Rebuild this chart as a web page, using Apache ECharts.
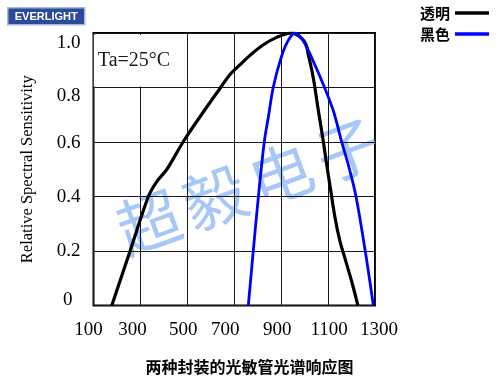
<!DOCTYPE html>
<html>
<head>
<meta charset="utf-8">
<script src="https://cdn.jsdelivr.net/npm/echarts@6/dist/echarts.min.js"></script>
<style>html,body{margin:0;padding:0;background:#fff;}#c{width:499px;height:380px;}</style>
</head>
<body>
<div id="c"></div>
<script>
// ---- data ----
var seriesNames = ['透明', '黑色'];
var clearX = [178, 256, 334, 369, 413, 482, 560, 642, 682, 725, 767, 824, 881, 945, 988, 1006, 1016, 1037, 1059, 1080, 1094, 1108, 1130, 1151, 1172, 1201, 1227];
var clearY = [0, 0.2, 0.4, 0.454, 0.5, 0.6, 0.7, 0.8, 0.848, 0.884, 0.918, 0.957, 0.984, 1.0, 0.98, 0.957, 0.92, 0.835, 0.713, 0.6, 0.517, 0.44, 0.32, 0.234, 0.173, 0.087, 0];
var blackX = [760, 781, 803, 828, 847, 866, 895, 924, 959, 995, 1037, 1080, 1123, 1158, 1186, 1219, 1262, 1293];
var blackY = [0, 0.2, 0.4, 0.6, 0.7, 0.8, 0.896, 0.963, 1.0, 0.97, 0.896, 0.81, 0.713, 0.6, 0.517, 0.4, 0.18, 0];
var xTicks = [100, 300, 500, 700, 900, 1100, 1300];
var yTicks = [0, 0.2, 0.4, 0.6, 0.8, 1.0];
var yTitle = 'Relative Spectral Sensitivity';
var xTitle = '两种封装的光敏管光谱响应图';
var condition = 'Ta=25°C';
var watermark = ['超', '毅', '电', '子'];
var logoText = 'EVERLIGHT';

// ---- styles (label nudges to mimic the scanned original) ----
var xShift = {100: -5, 300: -8, 500: -4, 700: -9, 900: -4, 1100: 1, 1300: 4};
var yShift = {0: [-5, 8], 0.2: [0, 0], 0.4: [1, 0], 0.6: [1, 0], 0.8: [9, 0], 1: [10, 0]};

function pairs(xs, ys) { return xs.map(function (x, i) { return [x, ys[i]]; }); }

var xRich = {}, yRich = {};
xTicks.forEach(function (v, i) {
  var d = xShift[v] || 0;
  xRich['x' + i] = {fontSize: 19, fontFamily: 'Liberation Serif', color: '#000',
    padding: [0, d < 0 ? -2 * d : 0, 0, d > 0 ? 2 * d : 0]};
});
yTicks.forEach(function (v, i) {
  var s = yShift[v] || [0, 0];
  var dy = s[0], dx = s[1];
  yRich['y' + i] = {fontSize: 19, fontFamily: 'Liberation Serif', color: '#000',
    padding: [dy > 0 ? 2 * dy : 0, dx, dy < 0 ? -2 * dy : 0, 0]};
});

var chart = echarts.init(document.getElementById('c'), null, {renderer: 'canvas'});
var wmChildren = watermark.map(function (ch, i) {
  return {type: 'text', x: (i - 1.5) * 70.5, y: 0,
    style: {text: ch, fontSize: 63, fontFamily: 'Noto Sans CJK SC', fill: '#98bdf4', opacity: 0.85,
      align: 'center', verticalAlign: 'middle'}};
});

var option = {
  backgroundColor: '#fff',
  animation: false,
  title: {text: xTitle, left: 'center', top: 354,
    textStyle: {fontSize: 16, fontWeight: 'bold', fontFamily: 'Noto Sans CJK SC', color: '#000'}},
  legend: {
    orient: 'vertical', right: 5, top: 0, align: 'right', icon: 'rect',
    itemWidth: 34, itemHeight: 3.5, itemGap: 5,
    textStyle: {fontSize: 15, fontWeight: 'bold', fontFamily: 'Noto Sans CJK SC', color: '#000', lineHeight: 16},
    data: seriesNames
  },
  grid: {left: 93.5, right: 124, top: 33, bottom: 74.5, show: true, borderColor: '#000', borderWidth: 2, backgroundColor: 'transparent'},
  xAxis: {
    type: 'value', min: xTicks[0], max: xTicks[xTicks.length - 1], interval: 200,
    axisLine: {show: false}, axisTick: {show: false},
    splitLine: {show: true, lineStyle: {color: '#1a1a1a', width: 1}},
    axisLabel: {margin: 15, formatter: function (v) { var i = xTicks.indexOf(v); return '{x' + i + '|' + v + '}'; }, rich: xRich}
  },
  yAxis: {
    type: 'value', min: 0, max: 1, interval: 0.2,
    name: yTitle, nameLocation: 'middle', nameRotate: 90, nameGap: 57,
    nameTextStyle: {fontSize: 16.5, fontFamily: 'Liberation Serif', color: '#000'},
    axisLine: {show: false}, axisTick: {show: false},
    splitLine: {show: true, lineStyle: {color: '#1a1a1a', width: 1}},
    axisLabel: {margin: 13, formatter: function (v) {
      var i = -1; yTicks.forEach(function (t, k) { if (Math.abs(t - v) < 1e-9) i = k; });
      var s = v === 0 ? '0' : v.toFixed(1);
      return '{y' + i + '|' + s + '}';
    }, rich: yRich}
  },
  graphic: [
    {type: 'group', left: 7, top: 7, children: [
      {type: 'rect', shape: {x: 0, y: 0, width: 77, height: 17}, style: {fill: '#2b4a9b', stroke: '#a8b9e0', lineWidth: 1.5}},
      {type: 'text', x: 38.5, y: 9, style: {text: logoText, fontSize: 11, fontWeight: 'bold', fontFamily: 'Liberation Sans', fill: '#fff', align: 'center', verticalAlign: 'middle'}}
    ]},
    {type: 'group', x: 248, y: 186, rotation: 0.35, z: 1, silent: true, children: wmChildren}
  ],
  series: [
    {name: seriesNames[0], type: 'line', data: pairs(clearX, clearY), showSymbol: false, symbol: 'none',
      smooth: 0.35, z: 3,
      lineStyle: {color: '#000', width: 3.2}, itemStyle: {color: '#000'},
      markArea: {silent: true, itemStyle: {color: '#fff', borderWidth: 0},
        label: {show: true, position: 'insideLeft', distance: 4, formatter: condition, fontSize: 20, fontFamily: 'Liberation Serif', color: '#1a1a1a'},
        data: [[{coord: [101.5, 0.804]}, {coord: [498, 0.993]}]]}
    },
    {name: seriesNames[1], type: 'line', data: pairs(blackX, blackY), showSymbol: false, symbol: 'none',
      smooth: 0.35, z: 4,
      lineStyle: {color: '#0000ff', width: 2.8}, itemStyle: {color: '#0000ff'}}
  ]
};
chart.setOption(option);
</script>
</body>
</html>
